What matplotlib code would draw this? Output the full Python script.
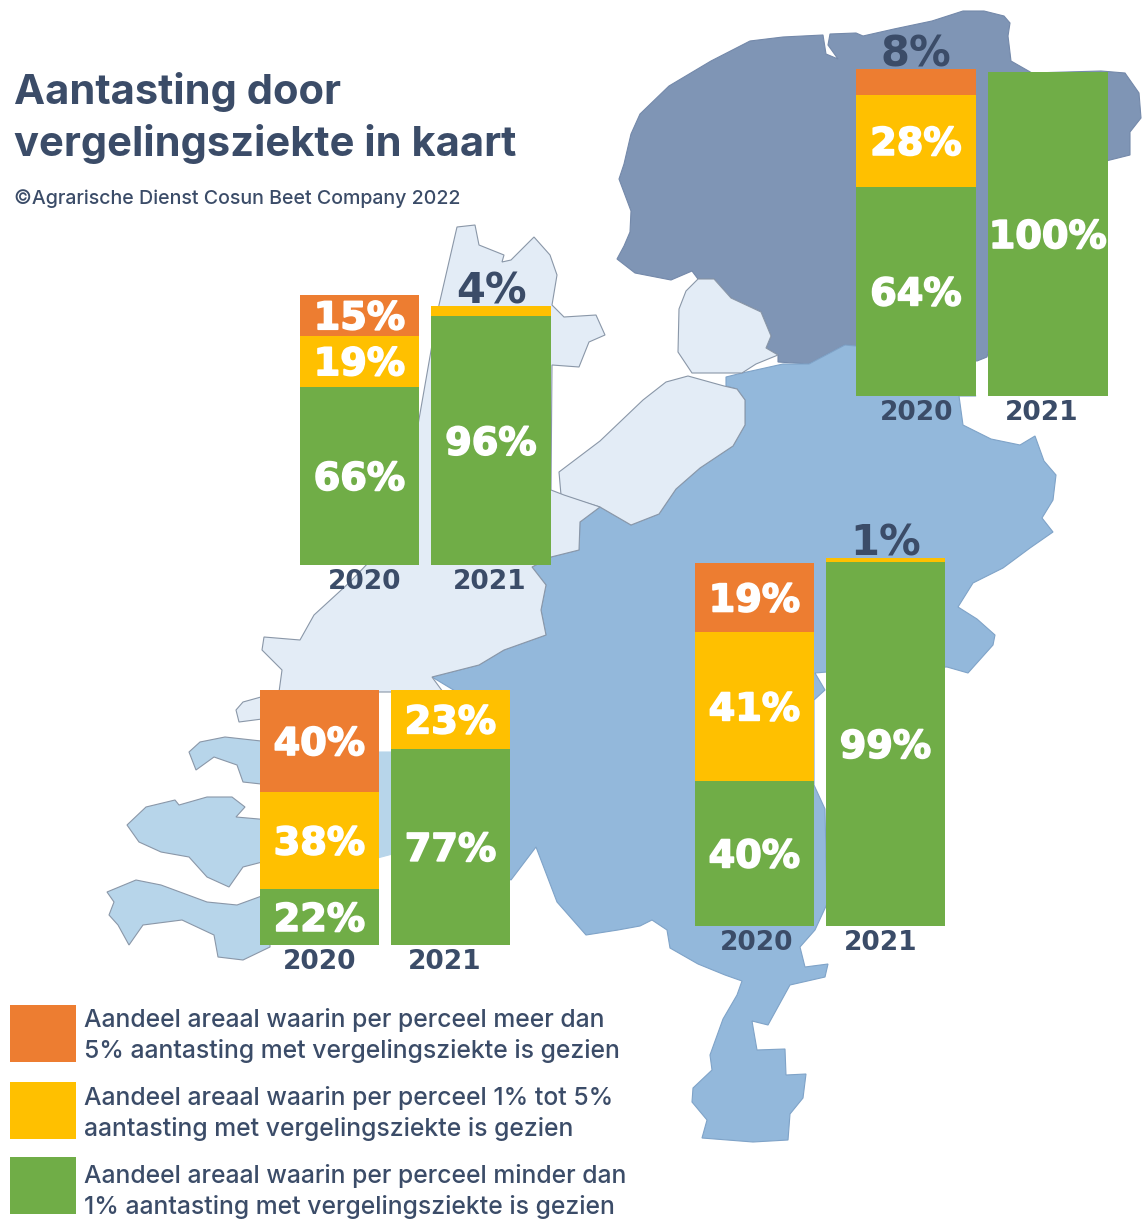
import matplotlib
matplotlib.use('Agg')
import matplotlib.pyplot as plt
import matplotlib.patheffects as pe
from matplotlib.patches import Polygon, Rectangle

W, H = 1142, 1221

# ---------- data ----------
years = ['2020', '2021']
regions = ['noord', 'noordwest', 'zuidwest', 'zuidoost']
meer_dan_5 = {'noord': [8, 0], 'noordwest': [15, 0], 'zuidwest': [40, 0], 'zuidoost': [19, 0]}
een_tot_5 = {'noord': [28, 0], 'noordwest': [19, 4], 'zuidwest': [38, 23], 'zuidoost': [41, 1]}
minder_dan_1 = {'noord': [64, 100], 'noordwest': [66, 96], 'zuidwest': [22, 77], 'zuidoost': [40, 99]}

title_lines = ['Aantasting door', 'vergelingsziekte in kaart']
source = '©Agrarische Dienst Cosun Beet Company 2022'
legend_lines = [
    ['Aandeel areaal waarin per perceel meer dan', '5% aantasting met vergelingsziekte is gezien'],
    ['Aandeel areaal waarin per perceel 1% tot 5%', 'aantasting met vergelingsziekte is gezien'],
    ['Aandeel areaal waarin per perceel minder dan', '1% aantasting met vergelingsziekte is gezien'],
]

# ---------- colours ----------
ORANGE = '#ED7D31'
YELLOW = '#FFC000'
GREEN = '#70AD47'
DARK = '#3B4C68'
C_NORTH = '#7F95B5'
C_SOUTH = '#93B8DB'
C_LIGHT = '#E3ECF6'
C_ZEE = '#B7D5EA'
EDGE = '#8A97A8'

# ---------- map outlines (background shape, in pixels) ----------
north = [(617,259),(624,246),(630,232),(631,211),(619,179),(624,164),(631,134),(640,114),(669,86),
         (711,61),(750,41),(783,37),(823,35),(826,54),(838,59),(828,45),(830,34),(856,33),(863,36),
         (894,29),(932,21),(963,11),(984,11),(1004,16),(1010,23),(1008,36),(1011,61),(1032,73),
         (1101,71),(1125,73),(1139,93),(1141,118),(1130,132),(1130,155),(1106,161),(1000,300),
         (987,357),(977,361),(900,350),(845,345),(809,364),(778,362),(778,355),(766,348),(771,336),
         (761,312),(731,298),(714,279),(698,279),(692,271),(671,280),(635,273)]
polder = [(698,279),(714,279),(731,298),(761,312),(771,336),(766,348),(778,355),(756,364),(742,373),
          (692,373),(678,352),(679,309),(686,291)]
flevo = [(688,376),(724,386),(737,389),(745,400),(745,425),(733,446),(700,468),(676,489),(659,514),
         (631,525),(600,507),(561,495),(559,472),(600,441),(643,400),(666,382)]
holland = [(457,227),(475,225),(479,245),(504,255),(502,262),(511,260),(534,237),(550,255),(557,275),
           (552,305),(564,317),(596,315),(605,335),(589,342),(579,367),(552,365),(551,490),(564,495),
           (600,507),(580,522),(579,550),(551,557),(532,567),(546,585),(541,610),(546,635),(504,650),
           (479,665),(432,677),(443,692),(279,692),(282,670),(262,650),(264,637),(300,640),(314,615),
           (350,582),(390,540),(418,425),(439,305)]
voorne = [(236,710),(243,702),(261,697),(270,697),(270,718),(239,722)]
goeree = [(189,752),(200,742),(225,737),(270,742),(270,785),(243,782),(237,765),(214,757),(196,770)]
schouwen = [(127,825),(146,807),(175,800),(179,805),(207,797),(232,797),(245,807),(236,817),(270,820),
            (270,860),(243,867),(229,887),(207,877),(189,857),(161,852),(139,842)]
tholen = [(370,752),(400,752),(400,852),(370,860)]
vlaanderen = [(107,892),(136,880),(161,885),(207,902),(237,905),(270,893),(270,947),(243,960),(218,957),
              (214,935),(182,920),(143,925),(129,945),(118,925),(109,915),(114,902)]
south = [(726,377),(742,373),(756,370),(783,364),(809,364),(845,345),(900,350),(976,396),(959,396),
         (963,425),(991,439),(1020,445),(1035,436),(1044,461),(1056,475),(1053,500),(1042,518),
         (1053,532),(1030,548),(1003,568),(973,583),(958,607),(977,619),(995,635),(993,645),(968,673),
         (947,667),(827,672),(815,673),(825,690),(814,700),(814,785),(825,809),(827,904),(815,930),
         (800,947),(805,967),(828,964),(825,977),(790,985),(768,1025),(752,1021),(757,1050),(785,1049),
         (786,1075),(806,1074),(803,1098),(790,1114),(788,1140),(753,1142),(702,1138),(707,1120),
         (692,1102),(693,1088),(712,1070),(710,1055),(723,1019),(737,995),(742,981),(725,975),(698,964),
         (670,948),(667,930),(652,920),(640,926),(618,930),(586,935),(557,902),(536,847),(511,880),
         (480,860),(470,700),(432,677),(479,665),(504,650),(546,635),(541,610),(546,585),(532,567),
         (551,557),(579,550),(580,522),(600,507),(631,525),(659,514),(676,489),(700,468),(733,446),
         (745,425),(745,400),(737,389),(726,386)]

fig = plt.figure(figsize=(W / 100, H / 100), dpi=100, facecolor='white')
bg = fig.add_axes([0, 0, 1, 1])
bg.set_xlim(0, W)
bg.set_ylim(H, 0)
bg.axis('off')

for pts, col, edge in [(north, C_NORTH, '#7489AA'), (south, C_SOUTH, '#7FA3C8'), (polder, C_LIGHT, EDGE),
                       (flevo, C_LIGHT, EDGE), (holland, C_LIGHT, EDGE), (voorne, C_LIGHT, EDGE),
                       (goeree, C_ZEE, EDGE), (schouwen, C_ZEE, EDGE), (tholen, C_ZEE, C_ZEE),
                       (vlaanderen, C_ZEE, EDGE)]:
    bg.add_patch(Polygon(pts, closed=True, facecolor=col, edgecolor=edge, linewidth=0.8))

# ---------- title and legend ----------
TEXT_FONT = 'Inter'
for line, y in zip(title_lines, [104, 156]):
    bg.text(14, y, line, fontsize=30, fontweight='bold', color=DARK, family=TEXT_FONT, va='baseline')
bg.text(14, 204, source, fontsize=14.1, fontweight='medium', color=DARK, family=TEXT_FONT, va='baseline')

for col, (top, bottom), lines, ys in zip([ORANGE, YELLOW, GREEN],
                                         [(1005, 1062), (1082, 1139), (1157, 1214)],
                                         legend_lines,
                                         [(1027, 1058), (1105, 1136), (1183, 1214)]):
    bg.add_patch(Rectangle((10, top), 66, bottom - top, facecolor=col, edgecolor='none'))
    for line, y in zip(lines, ys):
        bg.text(84, y, line, fontsize=17.8, fontweight='medium', color=DARK, family=TEXT_FONT, va='baseline')

# ---------- bars: one small axes per bar, 0-100 scale ----------
# (left, right, top, bottom) of each bar in pixels, year label x
boxes = {
    'noord': [(856, 976, 69, 396, 917), (988, 1108, 72, 396, 1042)],
    'noordwest': [(300, 419, 295, 565, 365), (431, 551, 306, 565, 490)],
    'zuidwest': [(260, 379, 690, 945, 320), (391, 510, 690, 945, 445)],
    'zuidoost': [(695, 814, 563, 926, 757), (826, 945, 558, 926, 881)],
}
year_gap = 17
thick = [pe.withStroke(linewidth=1.2, foreground='white')]


def draw_bar(ax, green, yellow, orange):
    bottom = 0
    for value, col in [(green, GREEN), (yellow, YELLOW), (orange, ORANGE)]:
        if value == 0:
            continue
        cont = ax.bar(0, value, bottom=bottom, width=1, color=col, linewidth=0)
        if value < 10:
            ax.annotate(f'{value}%', (0, 100), xytext=(0, 2), textcoords='offset points',
                        ha='center', va='baseline', fontsize=30, fontweight='bold',
                        color=DARK, annotation_clip=False)
        else:
            labels = ax.bar_label(cont, labels=[f'{value}%'], label_type='center', color='white',
                                  fontsize=27.5, fontweight='bold', path_effects=thick)
            for t in labels:
                t.set_verticalalignment('center_baseline')
        bottom += value


for region in regions:
    for i, year in enumerate(years):
        left, right, top, bottom, year_x = boxes[region][i]
        ax = fig.add_axes([left / W, 1 - bottom / H, (right - left) / W, (bottom - top) / H])
        ax.set_xlim(-0.5, 0.5)
        ax.set_ylim(0, 100)
        ax.axis('off')
        ax.patch.set_alpha(0)
        draw_bar(ax, minder_dan_1[region][i], een_tot_5[region][i], meer_dan_5[region][i])
        bg.text(year_x, bottom + year_gap, year, ha='center', va='center', fontsize=19,
                fontweight='bold', color=DARK)

fig.savefig('out.png', dpi=100)
